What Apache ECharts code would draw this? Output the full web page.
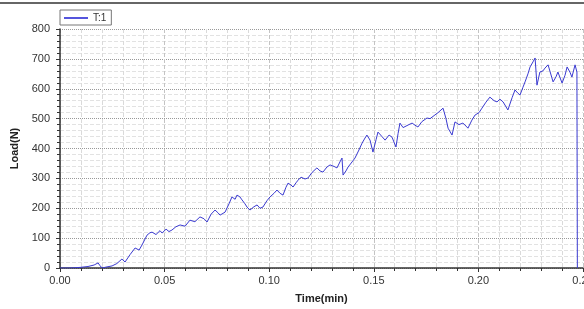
<!DOCTYPE html>
<html>
<head>
<meta charset="utf-8">
<script src="https://cdn.jsdelivr.net/npm/echarts@6/dist/echarts.min.js"></script>
<style>
  html, body { margin: 0; padding: 0; background: #fff; }
  #chart { width: 584px; height: 309px; }
</style>
</head>
<body>
<div id="chart"></div>
<script>
// time in minutes, load in N
const timeMin = [
  0.0000, 0.0048, 0.0096, 0.0134, 0.0163, 0.0182, 0.0191, 0.0201, 0.0220, 0.0249,
  0.0272, 0.0296, 0.0311, 0.0335, 0.0359, 0.0378, 0.0392, 0.0416, 0.0430, 0.0440,
  0.0459, 0.0478, 0.0488, 0.0507, 0.0521, 0.0535, 0.0554, 0.0574, 0.0598, 0.0621,
  0.0645, 0.0669, 0.0688, 0.0703, 0.0722, 0.0741, 0.0755, 0.0765, 0.0789, 0.0808,
  0.0822, 0.0837, 0.0846, 0.0860, 0.0870, 0.0884, 0.0894, 0.0908, 0.0927, 0.0942,
  0.0956, 0.0970, 0.0989, 0.1004, 0.1023, 0.1037, 0.1052, 0.1066, 0.1080, 0.1090,
  0.1104, 0.1114, 0.1128, 0.1138, 0.1152, 0.1171, 0.1185, 0.1205, 0.1228, 0.1243,
  0.1257, 0.1276, 0.1291, 0.1310, 0.1324, 0.1338, 0.1348, 0.1353, 0.1367, 0.1377,
  0.1396, 0.1410, 0.1429, 0.1444, 0.1458, 0.1467, 0.1482, 0.1496, 0.1511, 0.1520,
  0.1539, 0.1554, 0.1573, 0.1587, 0.1606, 0.1616, 0.1625, 0.1640, 0.1649, 0.1668,
  0.1683, 0.1697, 0.1711, 0.1730, 0.1754, 0.1769, 0.1788, 0.1807, 0.1831, 0.1845,
  0.1855, 0.1874, 0.1888, 0.1907, 0.1926, 0.1941, 0.1950, 0.1969, 0.1984, 0.2003,
  0.2017, 0.2036, 0.2055, 0.2075, 0.2089, 0.2103, 0.2118, 0.2141, 0.2161, 0.2175,
  0.2189, 0.2199, 0.2213, 0.2223, 0.2237, 0.2247, 0.2261, 0.2271, 0.2280, 0.2294,
  0.2309, 0.2318, 0.2333, 0.2342, 0.2357, 0.2371, 0.2380, 0.2400, 0.2414, 0.2424,
  0.2438, 0.2447, 0.2462, 0.2471, 0.2473
];
const loadN = [
  0, 0, 2, 5, 10, 17, 8, 0, 3, 7,
  15, 30, 20, 45, 67, 60, 77, 110, 118, 120,
  112, 125, 117, 130, 122, 127, 138, 144, 140, 160,
  155, 171, 165, 154, 180, 194, 185, 177, 187, 215,
  238, 230, 244, 238, 228, 215, 204, 194, 205, 211,
  200, 204, 225, 238, 250, 261, 250, 244, 270, 284,
  278, 271, 285, 294, 304, 298, 301, 320, 335, 325,
  321, 338, 345, 340, 335, 355, 368, 311, 325, 338,
  355, 368, 395, 418, 435, 445, 428, 388, 430, 455,
  440, 428, 445, 438, 405, 450, 485, 470, 468, 480,
  485, 478, 472, 490, 502, 500, 510, 520, 535, 500,
  468, 445, 489, 480, 485, 475, 468, 495, 512, 520,
  535, 555, 572, 560, 556, 565, 556, 529, 570, 596,
  585, 579, 605, 623, 650, 673, 690, 703, 612, 656,
  660, 669, 680, 686, 623, 640, 656, 619, 645, 673,
  655, 639, 680, 656, 0
];
const seriesName = 'T:1';

const chart = echarts.init(document.getElementById('chart'));
const labelFont = { color: '#333', fontFamily: 'Liberation Sans, Arial, sans-serif', fontSize: 11 };

chart.setOption({
  animation: false,
  backgroundColor: '#fff',
  graphic: [{
    type: 'line',
    shape: { x1: 0, y1: 3, x2: 584, y2: 3 },
    style: { stroke: '#333', lineWidth: 1.5 }
  }],
  legend: {
    left: 60, top: 10,
    data: [seriesName],
    icon: 'rect',
    itemWidth: 24, itemHeight: 2,
    itemGap: 4,
    padding: [3, 5, 2, 4],
    borderColor: '#777', borderWidth: 1,
    textStyle: { color: '#333', fontSize: 10, fontFamily: 'Liberation Sans, Arial, sans-serif' }
  },
  grid: { left: 60, right: 1, top: 29, bottom: 41, containLabel: false, outerBoundsMode: 'none' },
  xAxis: {
    type: 'value',
    min: 0, max: 0.25, interval: 0.05,
    name: 'Time(min)',
    nameLocation: 'middle',
    nameGap: 25,
    nameTextStyle: { color: '#222', fontWeight: 'bold', fontSize: 11, fontFamily: 'Liberation Sans, Arial, sans-serif' },
    axisLine: { onZero: false, lineStyle: { color: '#333', width: 1.5 } },
    axisTick: { length: 4, lineStyle: { color: '#333' } },
    minorTick: { show: true, splitNumber: 5, length: 3, lineStyle: { color: '#333' } },
    axisLabel: Object.assign({ formatter: v => v.toFixed(2), margin: 7 }, labelFont),
    splitLine: { show: true, lineStyle: { color: '#c4c4c4', type: 'dashed', width: 1 } },
    minorSplitLine: { show: true, lineStyle: { color: '#dadada', type: 'dashed', width: 1 } }
  },
  yAxis: {
    type: 'value',
    min: 0, max: 800, interval: 100,
    name: 'Load(N)',
    nameLocation: 'middle',
    nameGap: 37,
    nameTextStyle: { color: '#222', fontWeight: 'bold', fontSize: 11, fontFamily: 'Liberation Sans, Arial, sans-serif' },
    axisLine: { show: true, lineStyle: { color: '#333', width: 1.5 } },
    axisTick: { show: true, length: 4, lineStyle: { color: '#333' } },
    minorTick: { show: true, splitNumber: 5, length: 3, lineStyle: { color: '#333' } },
    axisLabel: Object.assign({ margin: 10 }, labelFont),
    splitLine: { show: true, lineStyle: { color: '#999', type: 'dotted', width: 1 } },
    minorSplitLine: { show: true, lineStyle: { color: '#e2e2e2', type: 'dashed', width: 1 } }
  },
  series: [{
    name: seriesName,
    type: 'line',
    data: timeMin.map((t, i) => [t, loadN[i]]),
    showSymbol: false,
    symbol: 'none',
    lineStyle: { color: '#3a3ad0', width: 1 },
    itemStyle: { color: '#5555dd' }
  }]
});
</script>
</body>
</html>
